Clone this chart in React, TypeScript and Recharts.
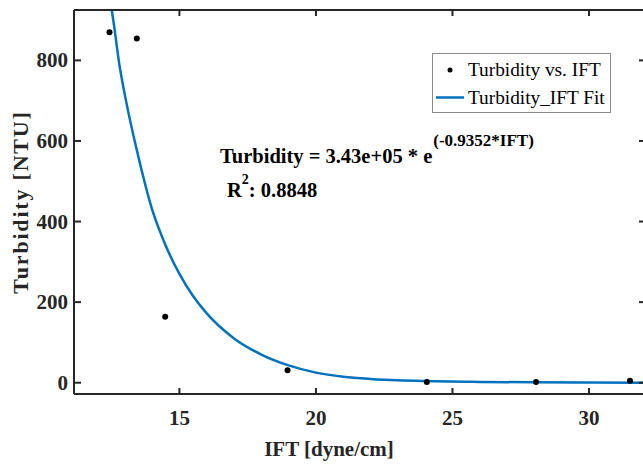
import React from 'react';
import {
  ComposedChart,
  Scatter,
  Line,
  XAxis,
  YAxis,
} from 'recharts';

// measured points (IFT in dyne/cm, turbidity in NTU)
const ift = [12.44, 13.44, 14.48, 18.96, 24.06, 28.06, 31.5];
const turbidity = [870, 854, 164, 31, 2, 2, 5];

// fitted curve
const fitIft = [12.4, 12.6, 12.8, 13.0, 13.5, 14.0, 14.5, 15.0, 15.5, 16.0, 17.0, 18.0, 19.0, 20.0, 21.0, 22.0, 23.0, 24.0, 26.0, 28.0, 30.0, 32.1];
const fitTurbidity = [980, 890, 790, 715, 560, 430, 340, 270, 215, 172, 110, 70, 43, 25, 15, 9.5, 6, 4, 2, 1, 0.5, 0.2];

const xTicks = [15, 20, 25, 30];
const yTicks = [0, 200, 400, 600, 800];

const AXIS = '#262626';
const BLUE = '#0072BD';
const FONT = '"Liberation Serif", serif';

const points = ift.map((x, i) => ({ x, y: turbidity[i] }));
const fit = fitIft.map((x, i) => ({ x, y: fitTurbidity[i] }));

const BottomTick = ({ x, y, payload }: any) => (
  <g>
    <line x1={x} x2={x} y1={y} y2={y - 6} stroke={AXIS} strokeWidth={2} />
    <text x={x} y={y + 31} textAnchor="middle" fill={AXIS} fontSize={21} fontWeight="bold" fontFamily={FONT}>
      {payload.value}
    </text>
  </g>
);

const TopTick = ({ x, y }: any) => (
  <line x1={x} x2={x} y1={y} y2={y + 6} stroke={AXIS} strokeWidth={2} />
);

const LeftTick = ({ x, y, payload }: any) => (
  <g>
    <line x1={x} x2={x + 7} y1={y} y2={y} stroke={AXIS} strokeWidth={2} />
    <text x={x - 6} y={y + 7} textAnchor="end" fill={AXIS} fontSize={21} fontWeight="bold" fontFamily={FONT}>
      {payload.value}
    </text>
  </g>
);

const RightTick = ({ x, y }: any) => (
  <line x1={x} x2={x - 6} y1={y} y2={y} stroke={AXIS} strokeWidth={2} />
);

const dot = (p: any) => <circle cx={p.cx} cy={p.cy} r={3} fill="#000" />;

export default function App() {
  return (
    <div style={{ position: 'absolute', left: 0, top: 0, width: 643, height: 466, overflow: 'hidden', background: '#fff' }}>
      <ComposedChart width={650} height={466} margin={{ top: 9, right: 4, left: 0, bottom: 0 }}>
        <XAxis
          dataKey="x"
          type="number"
          domain={[11.14, 32.05]}
          ticks={xTicks}
          allowDataOverflow
          height={72}
          tickSize={0}
          tickMargin={0}
          tickLine={false}
          axisLine={{ stroke: AXIS, strokeWidth: 2 }}
          tick={<BottomTick />}
          label={({ viewBox }: any) => (
            <text x={329} y={viewBox.y + 62} textAnchor="middle" fill={AXIS} fontSize={21} fontWeight="bold" fontFamily={FONT}>
              IFT [dyne/cm]
            </text>
          )}
        />
        <XAxis
          xAxisId="top"
          orientation="top"
          dataKey="x"
          type="number"
          domain={[11.14, 32.05]}
          ticks={xTicks}
          allowDataOverflow
          height={1}
          tickSize={0}
          tickMargin={0}
          tickLine={false}
          axisLine={{ stroke: AXIS, strokeWidth: 2 }}
          tick={<TopTick />}
        />
        <YAxis
          type="number"
          domain={[-28, 925]}
          ticks={yTicks}
          allowDataOverflow
          width={74}
          tickSize={0}
          tickMargin={0}
          tickLine={false}
          axisLine={{ stroke: AXIS, strokeWidth: 2 }}
          tick={<LeftTick />}
          label={({ viewBox }: any) => (
            <text
              x={20}
              y={viewBox.y + viewBox.height / 2}
              transform={`rotate(-90, 20, ${viewBox.y + viewBox.height / 2})`}
              textAnchor="middle"
              dominantBaseline="central"
              fill={AXIS}
              fontSize={22}
              letterSpacing={1.8}
              fontWeight="bold"
              fontFamily={FONT}
            >
              Turbidity [NTU]
            </text>
          )}
        />
        <YAxis
          yAxisId="right"
          orientation="right"
          type="number"
          domain={[-28, 925]}
          ticks={yTicks}
          allowDataOverflow
          width={1}
          tickSize={0}
          tickMargin={0}
          tickLine={false}
          axisLine={{ stroke: AXIS, strokeWidth: 2 }}
          tick={<RightTick />}
        />
        <Scatter data={points} dataKey="y" shape={dot} isAnimationActive={false} />
        <Line data={fit} dataKey="y" type="monotone" stroke={BLUE} strokeWidth={2.5} dot={false} activeDot={false} isAnimationActive={false} />
      </ComposedChart>

      <svg width={643} height={466} style={{ position: 'absolute', left: 0, top: 0, pointerEvents: 'none' }}>
        <text x={220} y={163} fontSize={20.5} fontWeight="bold" fontFamily={FONT} fill="#000">
          Turbidity = 3.43e+05 * e
          <tspan dx={1} dy={-17} fontSize={17}>(-0.9352*IFT)</tspan>
        </text>
        <text x={227} y={197} fontSize={20.5} fontWeight="bold" fontFamily={FONT} fill="#000">
          R<tspan dy={-13} fontSize={14}>2</tspan>
          <tspan dy={13}>: 0.8848</tspan>
        </text>

        <rect x={432.5} y={53.5} width={178} height={59} fill="#fff" stroke="#8a8a8a" strokeWidth={1} />
        <circle cx={450} cy={70} r={2.5} fill="#000" />
        <text x={468} y={76} fontSize={19.3} fontFamily={FONT} fill="#000">Turbidity vs. IFT</text>
        <line x1={436} x2={464} y1={97.5} y2={97.5} stroke={BLUE} strokeWidth={2.5} />
        <text x={468} y={104} fontSize={19.3} fontFamily={FONT} fill="#000">Turbidity_IFT Fit</text>
      </svg>
    </div>
  );
}
